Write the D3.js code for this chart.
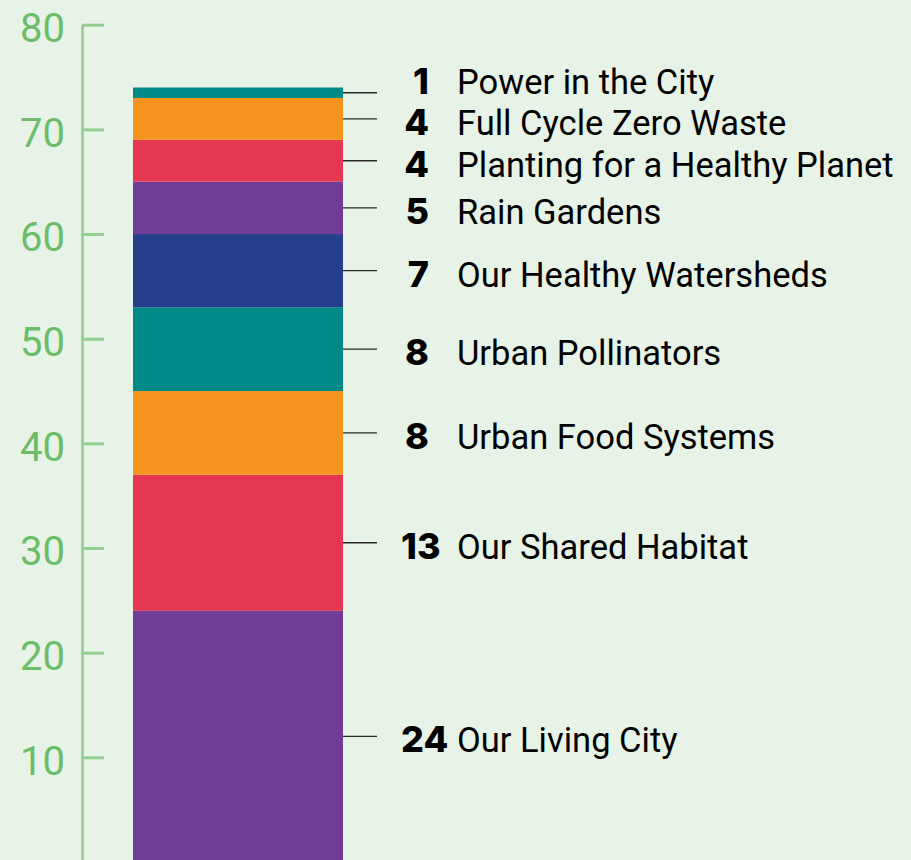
<!DOCTYPE html>
<html><head><meta charset="utf-8">
<script src="https://cdn.jsdelivr.net/npm/d3@7"></script>
<style>
html,body{margin:0;padding:0;background:#e8f3e7;}
svg{display:block;}
</style></head><body>
<svg id="chart" width="911" height="860"></svg>
<script>
const categories = ["Our Living City","Our Shared Habitat","Urban Food Systems","Urban Pollinators","Our Healthy Watersheds","Rain Gardens","Planting for a Healthy Planet","Full Cycle Zero Waste","Power in the City"];
const values = [24,13,8,8,7,5,4,4,1];
const colors = ["#703c96","#e43852","#f6941f","#008a87","#253f8c","#703c96","#e43852","#f6941f","#008a87"];
const yTicks = [10,20,30,40,50,60,70,80];

const svg = d3.select("#chart");
const y = d3.scaleLinear().domain([0,80]).range([862,24.7]);
const x = d3.scaleBand().domain(["total"]).range([133,343]).padding(0);

// axis
const axisG = svg.append("g").attr("transform","translate(82,0)")
  .call(d3.axisLeft(y).tickValues(yTicks).tickSize(-22).tickSizeOuter(0).tickPadding(17));
axisG.select(".domain").attr("stroke","#93cd8f").attr("stroke-width",2.5);
axisG.selectAll(".tick line").attr("stroke","#93cd8f").attr("stroke-width",3);
axisG.selectAll(".tick text").attr("fill","#6cbd69").attr("font-family","Roboto, 'Liberation Sans', sans-serif")
  .attr("font-size",40).attr("y",4);
svg.append("line").attr("x1",82).attr("x2",82).attr("y1",y(0)).attr("y2",860).attr("stroke","#93cd8f").attr("stroke-width",2.5);

// stacked data
let acc = 0;
const segs = values.map((v,i)=>{ const s={name:categories[i],value:v,y0:acc,y1:acc+v,color:colors[i]}; acc+=v; return s; });

svg.append("g").selectAll("rect").data(segs).join("rect")
  .attr("x",x("total")).attr("width",x.bandwidth())
  .attr("y",d=>y(d.y1)).attr("height",d=>y(d.y0)-y(d.y1))
  .attr("fill",d=>d.color);

// label positions with collision avoidance (bottom to top)
let prev = Infinity;
segs.forEach(d=>{
  const natural = y((d.y0+d.y1)/2)+16;
  d.ly = Math.min(natural, prev-41);
  prev = d.ly;
});

const lab = svg.append("g");
lab.selectAll("line").data(segs).join("line")
  .attr("x1",x("total")+x.bandwidth()).attr("x2",377)
  .attr("y1",d=>y((d.y0+d.y1)/2)).attr("y2",d=>y((d.y0+d.y1)/2))
  .attr("stroke","#2a2a2a").attr("stroke-width",1.4);
lab.selectAll("text.num").data(segs).join("text").attr("class","num")
  .attr("x",d=>d.value<10?429:401).attr("text-anchor",d=>d.value<10?"end":"start").attr("y",d=>d.ly)
  .attr("font-family","Inter, 'DejaVu Sans', sans-serif").attr("font-weight",800)
  .attr("font-size",36)
  .attr("fill","#000").text(d=>d.value);
lab.selectAll("text.name").data(segs).join("text").attr("class","name")
  .attr("x",457).attr("y",d=>d.ly)
  .attr("font-family","Roboto, 'Liberation Sans', sans-serif")
  .attr("font-size",34.5).attr("fill","#000").text(d=>d.name);
</script>
</body></html>
